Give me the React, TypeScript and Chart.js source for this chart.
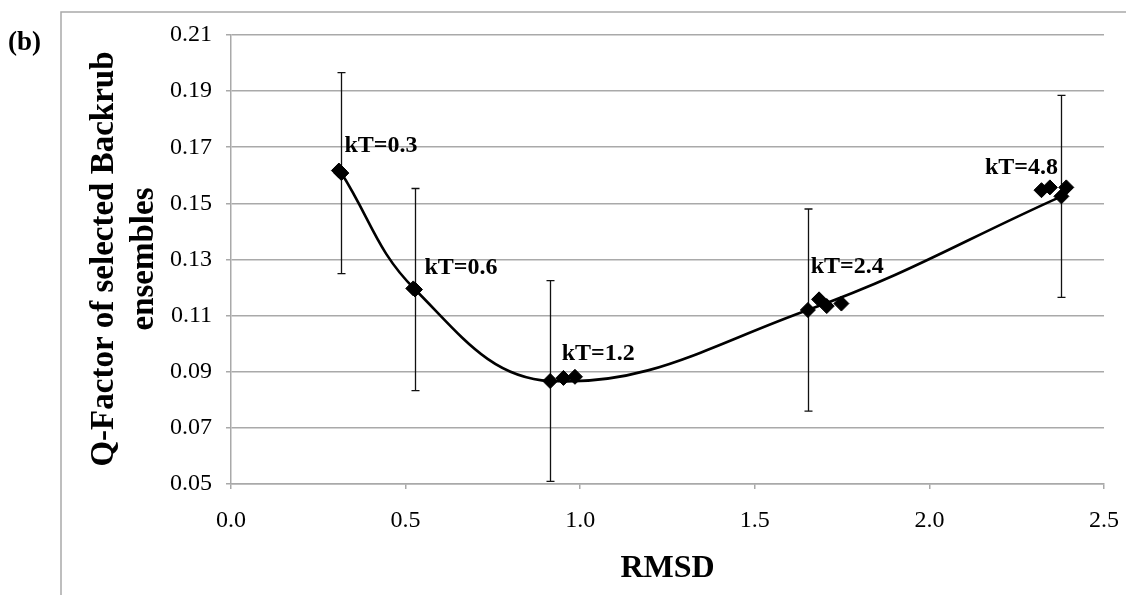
import React, { useEffect, useRef } from 'react';
import { Chart, registerables } from 'chart.js';

Chart.register(...registerables);

const SERIF = '"Liberation Serif", "Times New Roman", Times, serif';
const GRID_GRAY = '#a9a9a9';

// Ensemble averages at each backrub temperature (carry the error bars and the smooth curve)
const kTLabels = ['kT=0.3', 'kT=0.6', 'kT=1.2', 'kT=2.4', 'kT=4.8'];
const meanRmsd = [0.316, 0.527, 0.914, 1.652, 2.378];
const meanQ = [0.1608, 0.1193, 0.0867, 0.112, 0.1525];
const qError = [0.0358, 0.036, 0.0358, 0.036, 0.036];

// Where each kT annotation sits, in axis units (left edge, baseline)
const labelRmsd = [0.325, 0.554, 0.947, 1.66, 2.159];
const labelQ = [0.1683, 0.125, 0.0942, 0.1252, 0.1606];

// Individual selected ensembles
const replicaRmsd = [0.309, 0.522, 0.952, 0.985, 1.684, 1.706, 1.748, 2.321, 2.345, 2.392];
const replicaQ = [0.1617, 0.1197, 0.0878, 0.0882, 0.1158, 0.1134, 0.1143, 0.1547, 0.1557, 0.1557];

// Axis ranges and tick spacing
const xMin = 0;
const xMax = 2.5;
const xStep = 0.5;
const yMin = 0.05;
const yMax = 0.21;
const yStep = 0.02;

const decorations = {
  id: 'decorations',
  beforeDraw(chart: any) {
    const ctx = chart.ctx;
    ctx.save();
    ctx.fillStyle = '#ffffff';
    ctx.fillRect(0, 0, chart.width, chart.height);
    // outer panel frame
    ctx.strokeStyle = GRID_GRAY;
    ctx.lineWidth = 1.5;
    ctx.beginPath();
    ctx.moveTo(61, chart.height + 2);
    ctx.lineTo(61, 12);
    ctx.lineTo(chart.width + 2, 12);
    ctx.stroke();
    ctx.restore();
  },
  beforeDatasetsDraw(chart: any) {
    const ctx = chart.ctx;
    const xs = chart.scales.x;
    const ys = chart.scales.y;
    ctx.save();
    ctx.strokeStyle = '#111111';
    ctx.lineWidth = 1.3;
    meanRmsd.forEach((rx, i) => {
      const px = Math.round(xs.getPixelForValue(rx)) + 0.5;
      const top = ys.getPixelForValue(meanQ[i] + qError[i]);
      const bot = ys.getPixelForValue(meanQ[i] - qError[i]);
      ctx.beginPath();
      ctx.moveTo(px, top);
      ctx.lineTo(px, bot);
      ctx.moveTo(px - 4, top);
      ctx.lineTo(px + 4, top);
      ctx.moveTo(px - 4, bot);
      ctx.lineTo(px + 4, bot);
      ctx.stroke();
    });
    ctx.restore();
  },
  afterDraw(chart: any) {
    const ctx = chart.ctx;
    const xs = chart.scales.x;
    const ys = chart.scales.y;
    const area = chart.chartArea;
    ctx.save();
    ctx.fillStyle = '#000000';
    ctx.textBaseline = 'alphabetic';

    // kT annotations
    ctx.font = `bold 24px ${SERIF}`;
    ctx.textAlign = 'left';
    kTLabels.forEach((t, i) => {
      ctx.fillText(t, xs.getPixelForValue(labelRmsd[i]), ys.getPixelForValue(labelQ[i]));
    });

    // panel tag
    ctx.font = `bold 27px ${SERIF}`;
    ctx.fillText('(b)', 8, 50);

    // x-axis title
    ctx.font = `bold 32px ${SERIF}`;
    ctx.textAlign = 'center';
    ctx.fillText('RMSD', (area.left + area.right) / 2, 577);

    // y-axis title, two lines
    ctx.save();
    ctx.translate(0, 259);
    ctx.rotate(-Math.PI / 2);
    ctx.font = `bold 33px ${SERIF}`;
    ctx.textAlign = 'center';
    ctx.fillText('Q-Factor of selected Backrub', 0, 113);
    ctx.fillText('ensembles', 0, 153);
    ctx.restore();

    ctx.restore();
  },
};

export default function App() {
  const canvasRef = useRef<HTMLCanvasElement | null>(null);

  useEffect(() => {
    const canvas = canvasRef.current;
    if (!canvas) return;
    const chart = new Chart(canvas, {
      type: 'scatter',
      data: {
        datasets: [
          {
            label: 'replicas',
            data: replicaRmsd.map((x, i) => ({ x, y: replicaQ[i] })),
            pointStyle: 'rectRot',
            pointRadius: 7.5,
            pointBackgroundColor: '#000000',
            pointBorderColor: '#000000',
            pointBorderWidth: 1,
            showLine: false,
            order: 1,
          },
          {
            label: 'average',
            data: meanRmsd.map((x, i) => ({ x, y: meanQ[i] })),
            showLine: true,
            tension: 0.4,
            borderColor: '#000000',
            borderWidth: 2.6,
            pointStyle: 'rectRot',
            pointRadius: 7.5,
            pointBackgroundColor: '#000000',
            pointBorderColor: '#000000',
            pointBorderWidth: 1,
            order: 2,
          },
        ],
      },
      options: {
        responsive: false,
        animation: false,
        events: [],
        layout: { padding: { top: 35, right: 22, left: 0, bottom: 0 } },
        plugins: {
          legend: { display: false },
          tooltip: { enabled: false },
          title: { display: false },
        },
        scales: {
          x: {
            type: 'linear',
            min: xMin,
            max: xMax,
            afterFit(scale: any) {
              scale.height = 111;
              scale.paddingLeft = 0;
              scale.paddingRight = 0;
            },
            ticks: {
              stepSize: xStep,
              padding: 17,
              color: '#000000',
              font: { family: SERIF, size: 24 },
              callback: (v: any) => Number(v).toFixed(1),
            },
            grid: {
              drawOnChartArea: false,
              drawTicks: true,
              tickLength: 5,
              color: GRID_GRAY,
              lineWidth: 1.5,
            },
            border: { display: true, color: GRID_GRAY, width: 1.5 },
          },
          y: {
            type: 'linear',
            min: yMin,
            max: yMax,
            afterFit(scale: any) {
              scale.width = 231;
              scale.paddingTop = 0;
              scale.paddingBottom = 0;
            },
            ticks: {
              stepSize: yStep,
              padding: 14,
              color: '#000000',
              font: { family: SERIF, size: 24 },
              callback: (v: any) => Number(v).toFixed(2),
            },
            grid: {
              drawOnChartArea: true,
              drawTicks: true,
              tickLength: 5,
              color: GRID_GRAY,
              lineWidth: 1.5,
            },
            border: { display: true, color: GRID_GRAY, width: 1.5 },
          },
        },
      },
      plugins: [decorations],
    });
    return () => chart.destroy();
  }, []);

  return (
    <div style={{ position: 'absolute', left: 0, top: 0, width: 1126, height: 595, background: '#fff' }}>
      <canvas ref={canvasRef} width={1126} height={595} style={{ display: 'block' }} />
    </div>
  );
}
